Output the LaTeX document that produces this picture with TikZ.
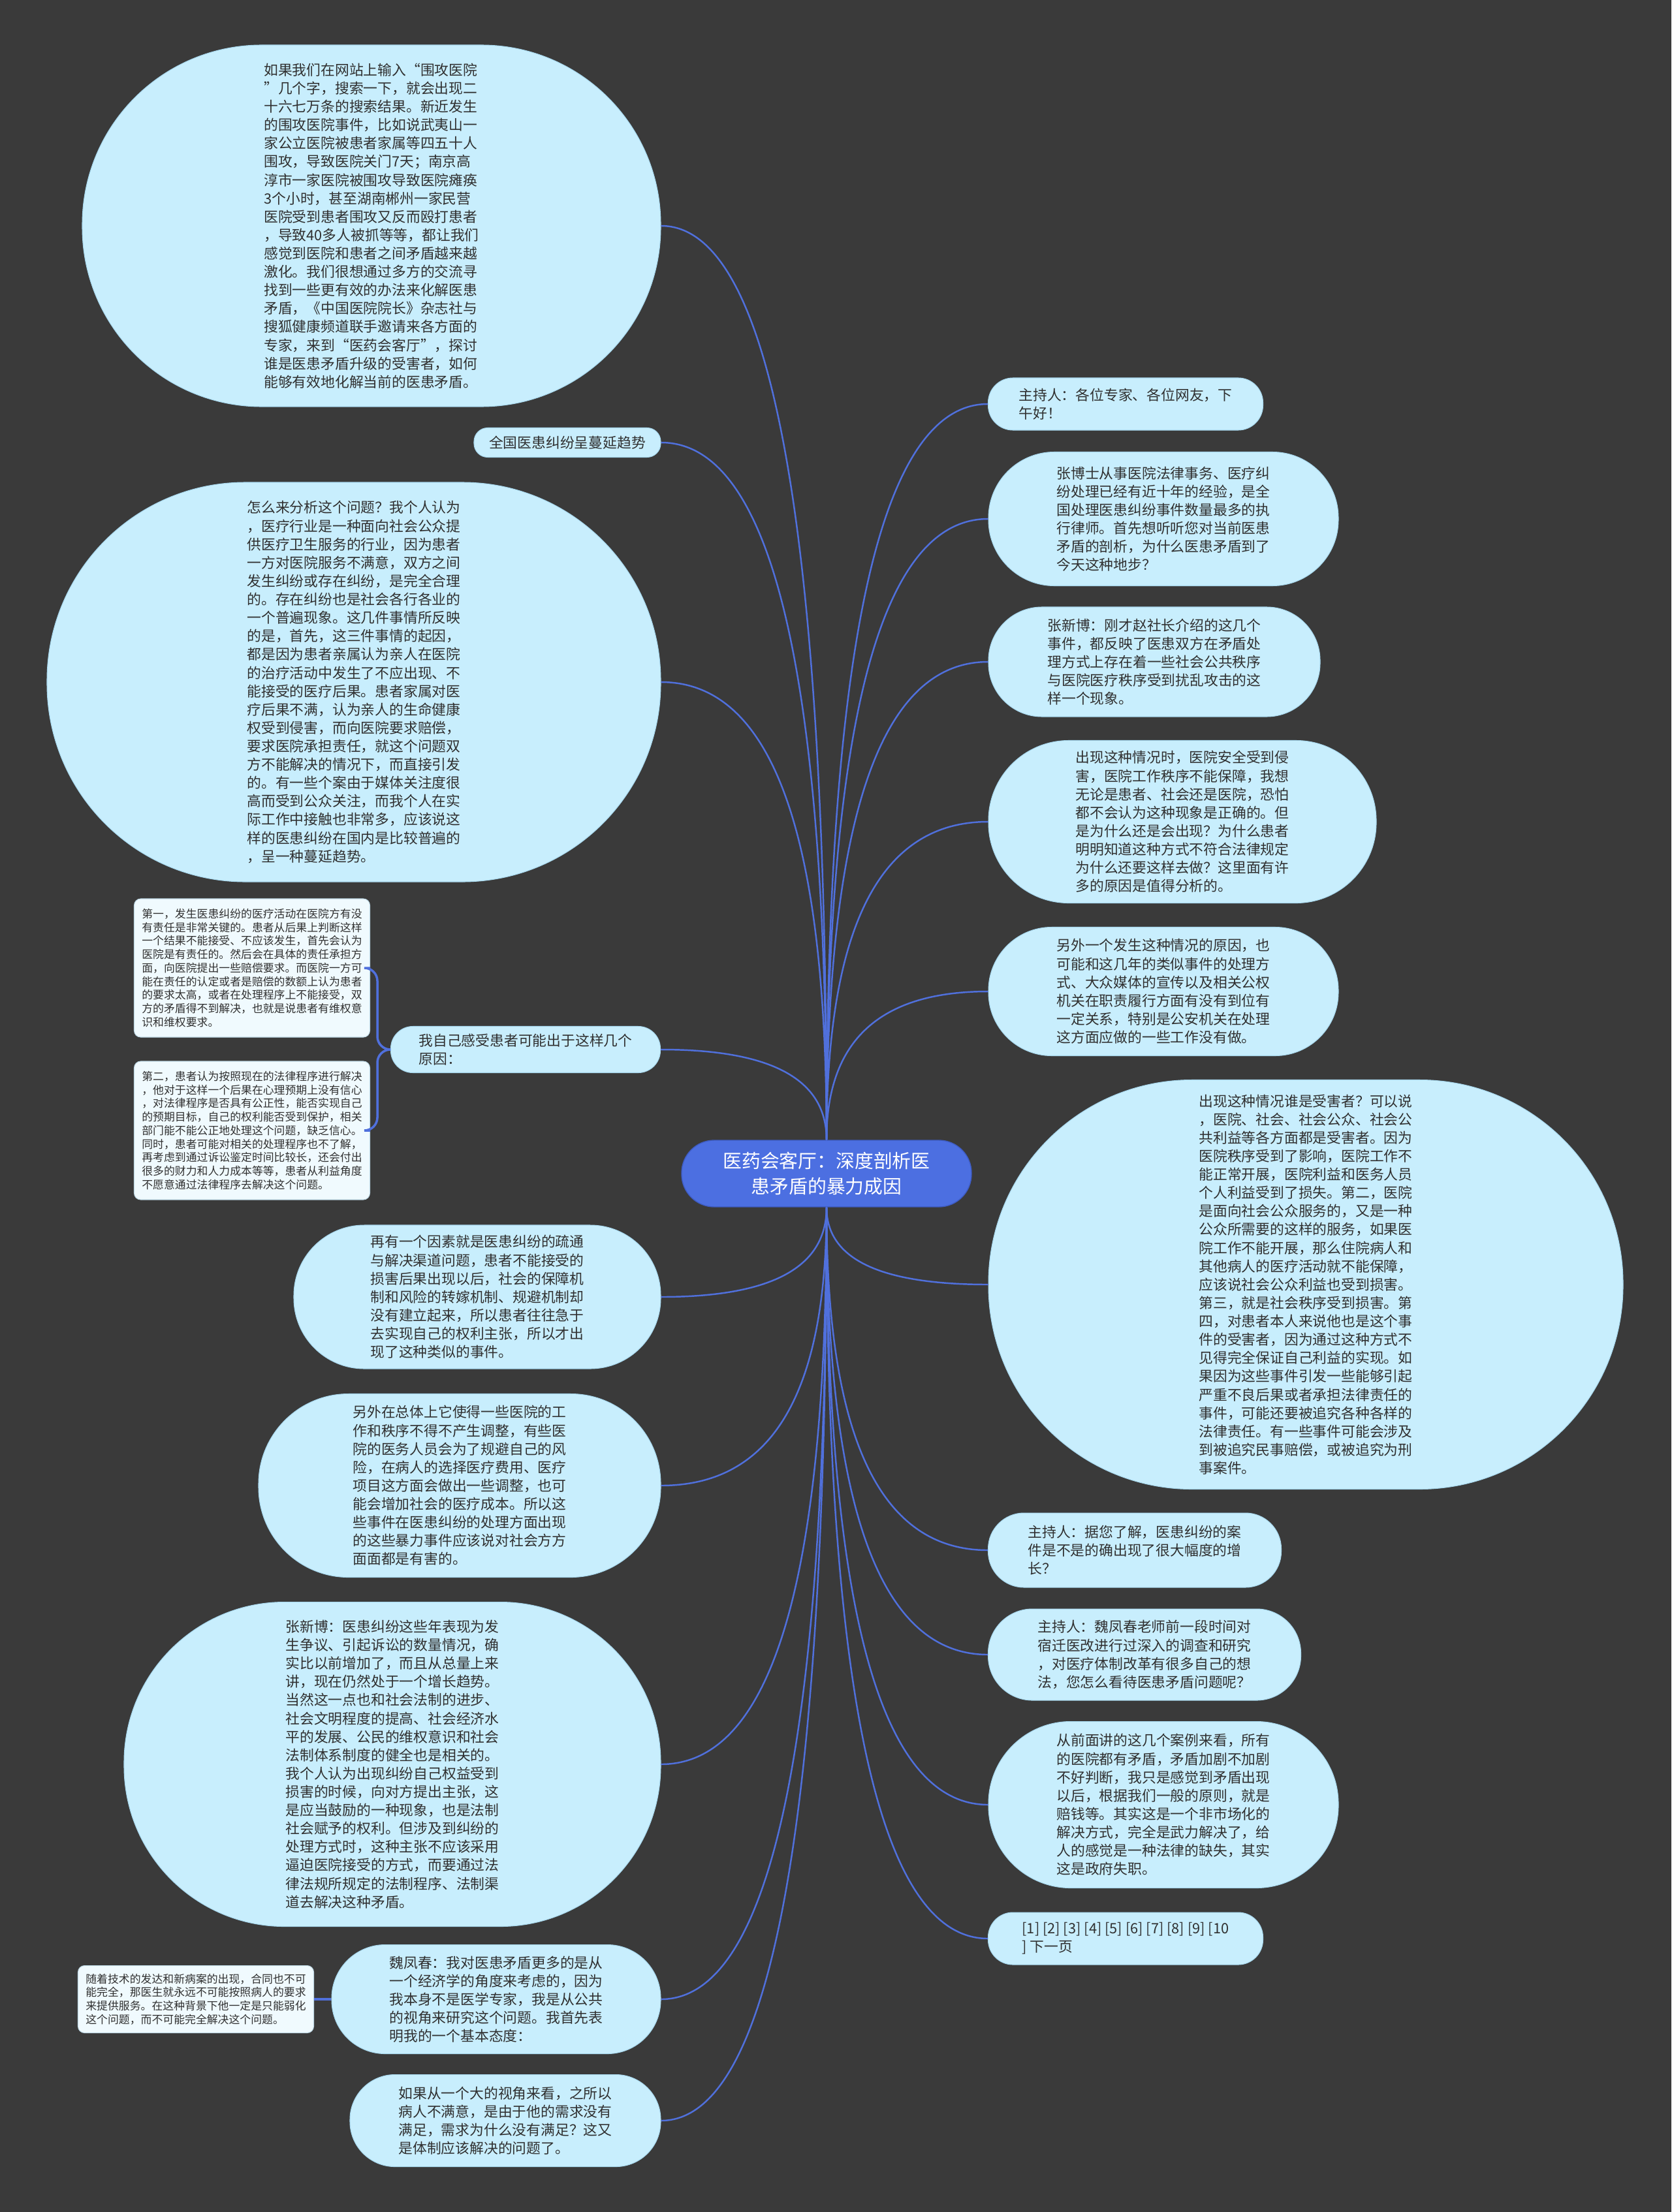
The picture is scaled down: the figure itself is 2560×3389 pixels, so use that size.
\documentclass[tikz,border=0pt]{standalone}
\usepackage{fontspec}
\setmainfont{Noto Sans CJK SC}
\usepackage{tikz}
\usetikzlibrary{calc}

\definecolor{bgdark}{HTML}{3A3A3A}
\definecolor{bubblefill}{HTML}{C8EEFD}
\definecolor{bubbleline}{HTML}{A8D8EE}
\definecolor{rootblue}{HTML}{4C6FE1}
\definecolor{rootline}{HTML}{3E5CC4}
\definecolor{edgeblue}{HTML}{5070DC}
\definecolor{notefill}{HTML}{F0FAFE}
\definecolor{noteline}{HTML}{BFD9E6}
\definecolor{textgray}{HTML}{303030}

\begin{document}
\begin{tikzpicture}[x=0.1mm,y=-0.1mm,
  bubble/.style={rectangle,rounded corners=#1,fill=bubblefill,draw=bubbleline,line width=0.3pt,
    text=textgray,align=left,inner sep=0pt,font=\fontsize{6.2pt}{8pt}\selectfont},
  note/.style={rectangle,rounded corners=1mm,fill=notefill,draw=noteline,line width=0.3pt,
    text=textgray,align=left,inner sep=0pt,font=\fontsize{4.8pt}{5.9pt}\selectfont},
  edge/.style={draw=edgeblue,line width=0.7pt}]
  \fill[bgdark] (0,0) rectangle (2560,3389);

  \node[rectangle,rounded corners=5mm,fill=rootblue,draw=rootline,line width=0.4pt,text=white,
    align=center,minimum width=44.4mm,minimum height=10.2mm,inner sep=0pt,
    font=\fontsize{8.2pt}{11pt}\selectfont] (root) at (1266,1798)
    {医药会客厅：深度剖析医\\患矛盾的暴力成因};

  % left branch
  \node[bubble=27.5mm,minimum width=88.6mm,minimum height=55.4mm] (topnews) at (569,346)
    {如果我们在网站上输入“围攻医院\\
     ”几个字，搜索一下，就会出现二\\
     十六七万条的搜索结果。新近发生\\
     的围攻医院事件，比如说武夷山一\\
     家公立医院被患者家属等四五十人\\
     围攻，导致医院关门7天；南京高\\
     淳市一家医院被围攻导致医院瘫痪\\
     3个小时，甚至湖南郴州一家民营\\
     医院受到患者围攻又反而殴打患者\\
     ，导致40多人被抓等等，都让我们\\
     感觉到医院和患者之间矛盾越来越\\
     激化。我们很想通过多方的交流寻\\
     找到一些更有效的办法来化解医患\\
     矛盾，《中国医院院长》杂志社与\\
     搜狐健康频道联手邀请来各方面的\\
     专家，来到“医药会客厅”，探讨\\
     谁是医患矛盾升级的受害者，如何\\
     能够有效地化解当前的医患矛盾。};
  \node[bubble=2.1mm,minimum width=28.6mm,minimum height=4.5mm] (trend) at (869,678)
    {全国医患纠纷呈蔓延趋势};
  \node[bubble=30.4mm,minimum width=94mm,minimum height=61.2mm] (analysis) at (542,1045)
    {怎么来分析这个问题？我个人认为\\
     ，医疗行业是一种面向社会公众提\\
     供医疗卫生服务的行业，因为患者\\
     一方对医院服务不满意，双方之间\\
     发生纠纷或存在纠纷，是完全合理\\
     的。存在纠纷也是社会各行各业的\\
     一个普遍现象。这几件事情所反映\\
     的是，首先，这三件事情的起因，\\
     都是因为患者亲属认为亲人在医院\\
     的治疗活动中发生了不应出现、不\\
     能接受的医疗后果。患者家属对医\\
     疗后果不满，认为亲人的生命健康\\
     权受到侵害，而向医院要求赔偿，\\
     要求医院承担责任，就这个问题双\\
     方不能解决的情况下，而直接引发\\
     的。有一些个案由于媒体关注度很\\
     高而受到公众关注，而我个人在实\\
     际工作中接触也非常多，应该说这\\
     样的医患纠纷在国内是比较普遍的\\
     ，呈一种蔓延趋势。};
  \node[bubble=3.4mm,minimum width=41.3mm,minimum height=7.1mm] (reasons) at (805,1608)
    {我自己感受患者可能出于这样几个\\原因：};
  \node[note,minimum width=36.1mm,minimum height=21.2mm] (factor1) at (386,1483)
    {第一，发生医患纠纷的医疗活动在医院方有没\\
     有责任是非常关键的。患者从后果上判断这样\\
     一个结果不能接受、不应该发生，首先会认为\\
     医院是有责任的。然后会在具体的责任承担方\\
     面，向医院提出一些赔偿要求。而医院一方可\\
     能在责任的认定或者是赔偿的数额上认为患者\\
     的要求太高，或者在处理程序上不能接受，双\\
     方的矛盾得不到解决，也就是说患者有维权意\\
     识和维权要求。};
  \node[note,minimum width=36.1mm,minimum height=21.2mm] (factor2) at (386,1732)
    {第二，患者认为按照现在的法律程序进行解决\\
     ，他对于这样一个后果在心理预期上没有信心\\
     ，对法律程序是否具有公正性，能否实现自己\\
     的预期目标，自己的权利能否受到保护，相关\\
     部门能不能公正地处理这个问题，缺乏信心。\\
     同时，患者可能对相关的处理程序也不了解，\\
     再考虑到通过诉讼鉴定时间比较长，还会付出\\
     很多的财力和人力成本等等，患者从利益角度\\
     不愿意通过法律程序去解决这个问题。};
  \node[bubble=10.8mm,minimum width=56.2mm,minimum height=22mm] (channel) at (731,1987)
    {再有一个因素就是医患纠纷的疏通\\
     与解决渠道问题，患者不能接受的\\
     损害后果出现以后，社会的保障机\\
     制和风险的转嫁机制、规避机制却\\
     没有建立起来，所以患者往往急于\\
     去实现自己的权利主张，所以才出\\
     现了这种类似的事件。};
  \node[bubble=13.8mm,minimum width=61.6mm,minimum height=28.1mm] (order) at (704,2276)
    {另外在总体上它使得一些医院的工\\
     作和秩序不得不产生调整，有些医\\
     院的医务人员会为了规避自己的风\\
     险，在病人的选择医疗费用、医疗\\
     项目这方面会做出一些调整，也可\\
     能会增加社会的医疗成本。所以这\\
     些事件在医患纠纷的处理方面出现\\
     的这些暴力事件应该说对社会方方\\
     面面都是有害的。};
  \node[bubble=24.6mm,minimum width=82.2mm,minimum height=49.7mm] (zhangview) at (601,2703)
    {张新博：医患纠纷这些年表现为发\\
     生争议、引起诉讼的数量情况，确\\
     实比以前增加了，而且从总量上来\\
     讲，现在仍然处于一个增长趋势。\\
     当然这一点也和社会法制的进步、\\
     社会文明程度的提高、社会经济水\\
     平的发展、公民的维权意识和社会\\
     法制体系制度的健全也是相关的。\\
     我个人认为出现纠纷自己权益受到\\
     损害的时候，向对方提出主张，这\\
     是应当鼓励的一种现象，也是法制\\
     社会赋予的权利。但涉及到纠纷的\\
     处理方式时，这种主张不应该采用\\
     逼迫医院接受的方式，而要通过法\\
     律法规所规定的法制程序、法制渠\\
     道去解决这种矛盾。};
  \node[bubble=8.2mm,minimum width=50.4mm,minimum height=16.7mm] (weifc) at (760,3063)
    {魏凤春：我对医患矛盾更多的是从\\
     一个经济学的角度来考虑的，因为\\
     我本身不是医学专家，我是从公共\\
     的视角来研究这个问题。我首先表\\
     明我的一个基本态度：};
  \node[note,minimum width=36.1mm,minimum height=10.3mm] (contract) at (300,3063)
    {随着技术的发达和新病案的出现，合同也不可\\
     能完全，那医生就永远不可能按照病人的要求\\
     来提供服务。在这种背景下他一定是只能弱化\\
     这个问题，而不可能完全解决这个问题。};
  \node[bubble=6.9mm,minimum width=47.6mm,minimum height=14.1mm] (bigview) at (774,3249)
    {如果从一个大的视角来看，之所以\\
     病人不满意，是由于他的需求没有\\
     满足，需求为什么没有满足？这又\\
     是体制应该解决的问题了。};

  % right branch
  \node[bubble=3.8mm,minimum width=42.1mm,minimum height=8mm] (host) at (1724,619)
    {主持人：各位专家、各位网友，下\\午好！};
  \node[bubble=10.1mm,minimum width=53.6mm,minimum height=20.5mm] (zhangdr) at (1782,795)
    {张博士从事医院法律事务、医疗纠\\
     纷处理已经有近十年的经验，是全\\
     国处理医患纠纷事件数量最多的执\\
     行律师。首先想听听您对当前医患\\
     矛盾的剖析，为什么医患矛盾到了\\
     今天这种地步？};
  \node[bubble=8.2mm,minimum width=50.8mm,minimum height=16.8mm] (zhangxb) at (1768,1014)
    {张新博：刚才赵社长介绍的这几个\\
     事件，都反映了医患双方在矛盾处\\
     理方式上存在着一些社会公共秩序\\
     与医院医疗秩序受到扰乱攻击的这\\
     样一个现象。};
  \node[bubble=12.3mm,minimum width=59.4mm,minimum height=24.9mm] (safety) at (1811,1259)
    {出现这种情况时，医院安全受到侵\\
     害，医院工作秩序不能保障，我想\\
     无论是患者、社会还是医院，恐怕\\
     都不会认为这种现象是正确的。但\\
     是为什么还是会出现？为什么患者\\
     明明知道这种方式不符合法律规定\\
     为什么还要这样去做？这里面有许\\
     多的原因是值得分析的。};
  \node[bubble=9.7mm,minimum width=53.6mm,minimum height=19.7mm] (media) at (1782,1519)
    {另外一个发生这种情况的原因，也\\
     可能和这几年的类似事件的处理方\\
     式、大众媒体的宣传以及相关公权\\
     机关在职责履行方面有没有到位有\\
     一定关系，特别是公安机关在处理\\
     这方面应做的一些工作没有做。};
  \node[bubble=31.2mm,minimum width=97.2mm,minimum height=62.7mm] (victims) at (2000,1968)
    {出现这种情况谁是受害者？可以说\\
     ，医院、社会、社会公众、社会公\\
     共利益等各方面都是受害者。因为\\
     医院秩序受到了影响，医院工作不\\
     能正常开展，医院利益和医务人员\\
     个人利益受到了损失。第二，医院\\
     是面向社会公众服务的，又是一种\\
     公众所需要的这样的服务，如果医\\
     院工作不能开展，那么住院病人和\\
     其他病人的医疗活动就不能保障，\\
     应该说社会公众利益也受到损害。\\
     第三，就是社会秩序受到损害。第\\
     四，对患者本人来说他也是这个事\\
     件的受害者，因为通过这种方式不\\
     见得完全保证自己利益的实现。如\\
     果因为这些事件引发一些能够引起\\
     严重不良后果或者承担法律责任的\\
     事件，可能还要被追究各种各样的\\
     法律责任。有一些事件可能会涉及\\
     到被追究民事赔偿，或被追究为刑\\
     事案件。};
  \node[bubble=5.5mm,minimum width=44.9mm,minimum height=11.4mm] (growth) at (1738,2375)
    {主持人：据您了解，医患纠纷的案\\
     件是不是的确出现了很大幅度的增\\
     长？};
  \node[bubble=6.8mm,minimum width=47.9mm,minimum height=14mm] (reform) at (1753,2535)
    {主持人：魏凤春老师前一段时间对\\
     宿迁医改进行过深入的调查和研究\\
     ，对医疗体制改革有很多自己的想\\
     法，您怎么看待医患矛盾问题呢？};
  \node[bubble=12.6mm,minimum width=53.6mm,minimum height=25.5mm] (failure) at (1782,2765)
    {从前面讲的这几个案例来看，所有\\
     的医院都有矛盾，矛盾加剧不加剧\\
     不好判断，我只是感觉到矛盾出现\\
     以后，根据我们一般的原则，就是\\
     赔钱等。其实这是一个非市场化的\\
     解决方式，完全是武力解决了，给\\
     人的感觉是一种法律的缺失，其实\\
     这是政府失职。};
  \node[bubble=3.8mm,minimum width=42.1mm,minimum height=8mm] (pages) at (1724,2970)
    {[1] [2] [3] [4] [5] [6] [7] [8] [9] [10\\] 下一页};

  \foreach \n in {topnews,trend,analysis,reasons}
    \draw[edge] (root.north) .. controls ($(root.north)!0.67!(root.north |- \n.east)$)
      and ($(\n.east)!0.67!(root.north |- \n.east)$) .. (\n.east);
  \foreach \n in {channel,order,zhangview,weifc,bigview}
    \draw[edge] (root.south) .. controls ($(root.south)!0.67!(root.south |- \n.east)$)
      and ($(\n.east)!0.67!(root.south |- \n.east)$) .. (\n.east);
  \foreach \n in {host,zhangdr,zhangxb,safety,media}
    \draw[edge] (root.north) .. controls ($(root.north)!0.67!(root.north |- \n.west)$)
      and ($(\n.west)!0.67!(root.north |- \n.west)$) .. (\n.west);
  \foreach \n in {victims,growth,reform,failure,pages}
    \draw[edge] (root.south) .. controls ($(root.south)!0.67!(root.south |- \n.west)$)
      and ($(\n.west)!0.67!(root.south |- \n.west)$) .. (\n.west);

  \foreach \n in {factor1,factor2}
    \draw[edge,line width=1pt,rounded corners=2mm] (\n.east) -- ++(11,0) |- (reasons.west);
  \draw[edge,line width=1pt] (contract.east) -- (weifc.west);
\end{tikzpicture}
\end{document}
